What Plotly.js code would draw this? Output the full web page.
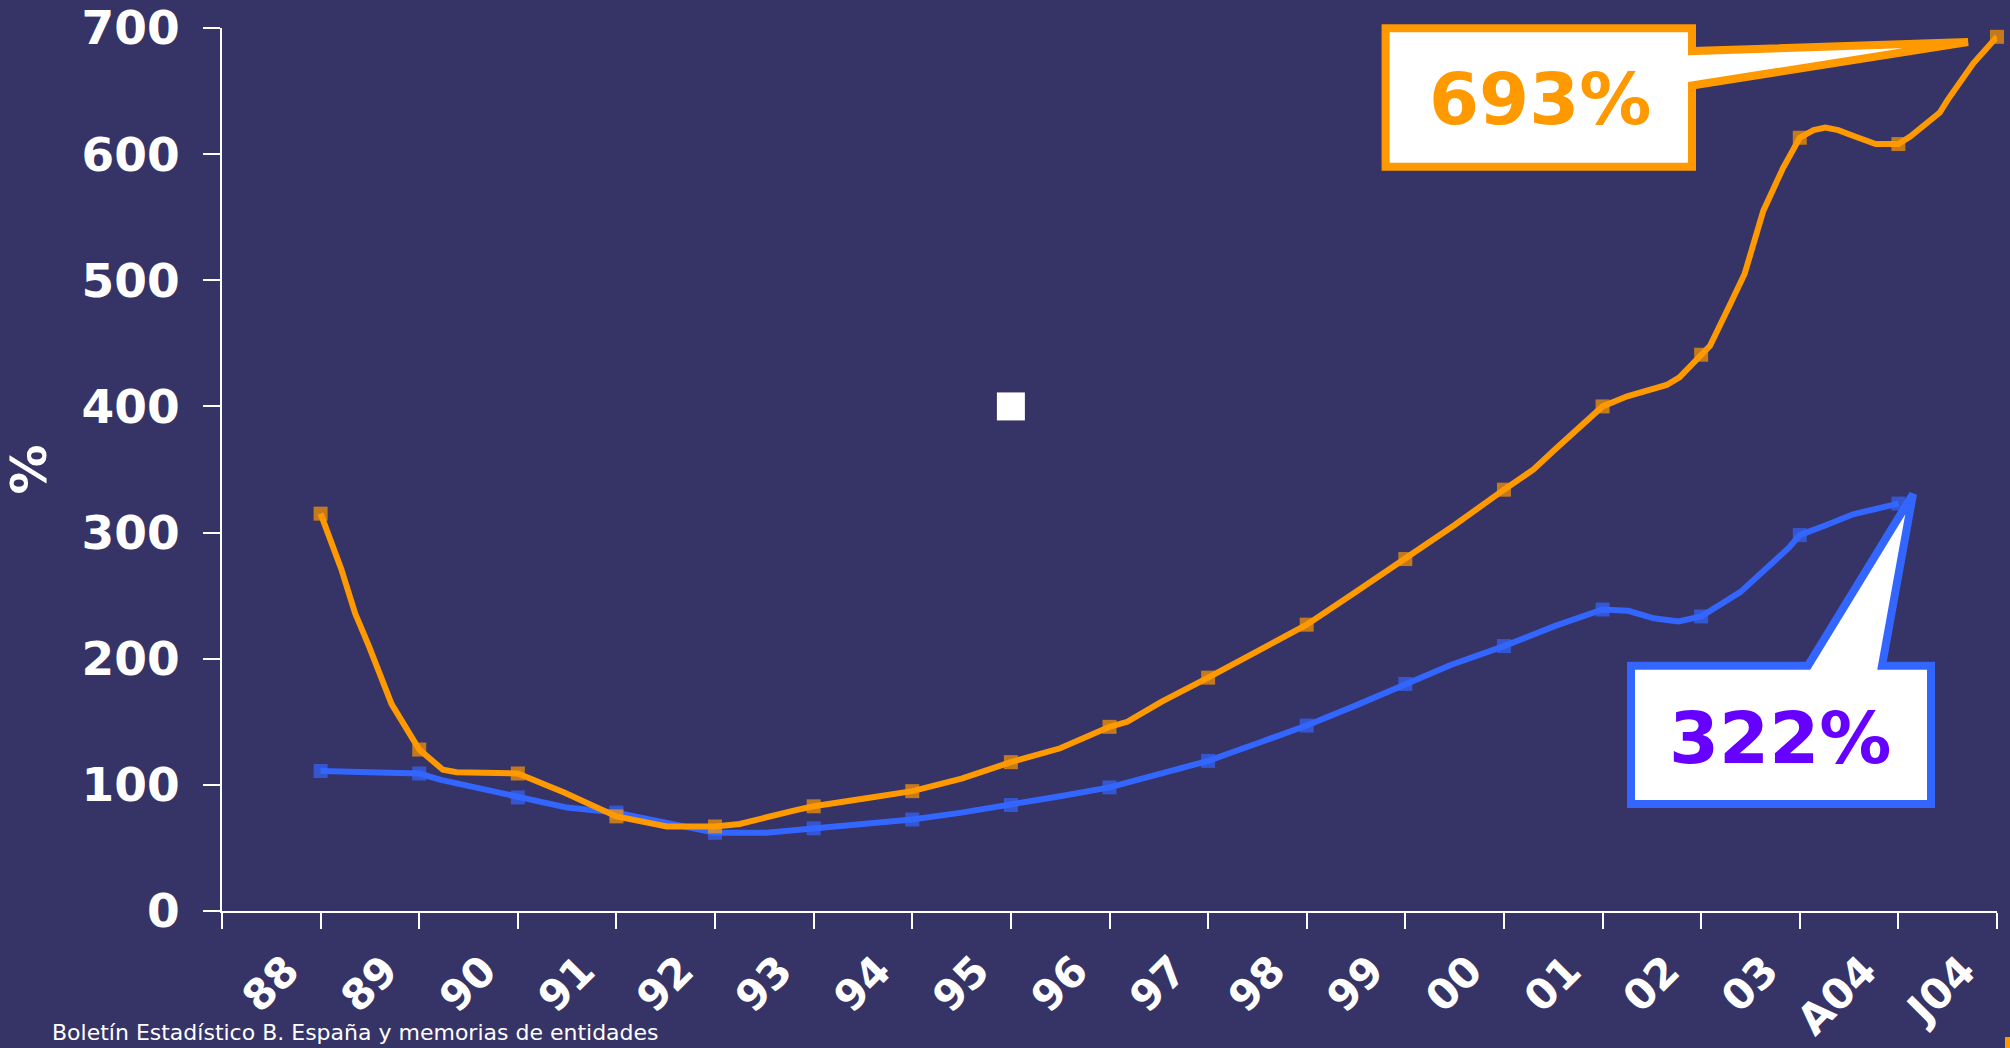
<!DOCTYPE html>
<html>
<head>
<meta charset="utf-8">
<script src="https://cdn.plot.ly/plotly-3.0.1.min.js"></script>
<style>
  html, body { margin: 0; padding: 0; background: #363366; }
  #chart { width: 2010px; height: 1048px; }
</style>
</head>
<body>
<div id="chart"></div>
<script>
// ---- Data ----
const yearLabels = ['88','89','90','91','92','93','94','95','96','97','98','99','00','01','02','03','A04','J04'];

// Orange series (x = position on the year scale, 88 = 0)
const orangeX = [0,0.21,0.35,0.49,0.72,1,1.24,1.38,2,2.47,3,3.51,4,4.25,4.82,5,5.5,6,6.5,7,7.5,8,8.18,8.53,9,10,10.5,11,11.5,12,12.3,12.52,13,13.25,13.65,13.78,14,14.09,14.3,14.44,14.63,14.83,15,15.14,15.26,15.39,15.56,15.77,16,16.12,16.42,16.5,16.76,17];
const orangeY = [315,271,236,210,164,128,112,110,109,94,75,67,67,69,80,83,89,95,105,118,129,146,150,166,185,227,253,279,306,334,350,366,400,408,417,423,441,448,482,505,555,589,613,619,621,619,614,608,608,614,633,643,672,693];

// Blue series
const blueX = [0,0.76,1,1.22,2,2.5,3,3.55,4,4.52,5,5.5,6,6.5,7,7.5,8,8.5,9,9.5,10,10.5,11,11.46,12,12.52,13,13.26,13.52,13.77,14,14.4,14.89,15,15.27,15.54,16];
const blueY = [111,110,109,104,90,82,78,69,62,62,65.5,69,72.5,78,84,91,98,108,119,133,147,163,180,195,210,226,239,238,232,229.5,233.5,253,288,298,306,314.5,323];

// Stray white square in the reference
const strayX = [7];
const strayY = [400];

const orangeLabel = '693%';
const blueLabel = '322%';
const sourceText = 'Boletín Estadístico B. España y memorias de entidades';
const yTitle = '%';

// ---- Styles ----
const BG = '#363366';
const ORANGE = '#FF9900';
const BLUE = '#3366FF';
const PURPLE = '#6600FF';
const FONT = 'DejaVu Sans, Verdana, sans-serif';

const W = 2010, H = 1048;
const M = {l: 222, r: 13, t: 28, b: 137};
const PW = W - M.l - M.r, PH = H - M.t - M.b;
// pixel -> paper helpers for decorations
const px = x => (x - M.l) / PW;
const py = y => (H - M.b - y) / PH;
const pathOf = pts => 'M' + pts.map(p => px(p[0]).toFixed(5) + ',' + py(p[1]).toFixed(5)).join(' L') + ' Z';

const markerSizes = xs => xs.map(x => Number.isInteger(x) ? 14 : 0);

const traces = [
  {
    x: blueX, y: blueY, type: 'scatter', mode: 'lines+markers',
    line: {color: BLUE, width: 6},
    marker: {symbol: 'square', color: BLUE, size: markerSizes(blueX), line: {width: 0}},
    cliponaxis: false, hoverinfo: 'x+y'
  },
  {
    x: orangeX, y: orangeY, type: 'scatter', mode: 'lines+markers',
    line: {color: ORANGE, width: 6},
    marker: {symbol: 'square', color: ORANGE, size: markerSizes(orangeX), line: {width: 0}},
    cliponaxis: false, hoverinfo: 'x+y'
  },
  {
    x: strayX, y: strayY, type: 'scatter', mode: 'markers',
    marker: {symbol: 'square', color: '#FFFFFF', size: 28, line: {width: 0}},
    hoverinfo: 'skip'
  }
];

const tickvals = [-1].concat(yearLabels.map((_, i) => i));
const ticktext = [''].concat(yearLabels);

const layout = {
  width: W, height: H,
  margin: M,
  paper_bgcolor: BG, plot_bgcolor: BG,
  showlegend: false,
  font: {family: FONT, color: '#FFFFFF'},
  xaxis: {
    range: [-1, 17], tickmode: 'array', tickvals: tickvals, ticktext: ticktext,
    showgrid: false, zeroline: false, showline: true, linecolor: '#FFFFFF', linewidth: 2,
    ticks: 'outside', ticklen: 16, tickwidth: 2, tickcolor: '#FFFFFF',
    tickangle: -45, ticklabelshift: -34, ticklabelstandoff: 0,
    tickfont: {family: FONT, size: 42, color: '#FFFFFF', weight: 'bold'},
    automargin: false, fixedrange: true
  },
  yaxis: {
    range: [0, 700], tickmode: 'linear', tick0: 0, dtick: 100,
    showgrid: false, zeroline: false, showline: true, linecolor: '#FFFFFF', linewidth: 2,
    ticks: 'outside', ticklen: 17, tickwidth: 2, tickcolor: '#FFFFFF',
    ticklabelstandoff: 14,
    tickfont: {family: FONT, size: 47, color: '#FFFFFF', weight: 'bold'},
    title: {text: yTitle, standoff: 26, font: {family: FONT, size: 50, color: '#FFFFFF', weight: 'bold'}},
    automargin: false, fixedrange: true
  },
  shapes: [
    {
      type: 'path', xref: 'paper', yref: 'paper', layer: 'above',
      path: pathOf([[1385.6,28.3],[1692,28.3],[1692,51],[1968,42],[1692,85.5],[1692,166.7],[1385.6,166.7]]),
      fillcolor: '#FFFFFF', line: {color: ORANGE, width: 8}
    },
    {
      type: 'path', xref: 'paper', yref: 'paper', layer: 'above',
      path: pathOf([[1631,665.7],[1808,665.7],[1913,494],[1882,665.7],[1931,665.7],[1931,804],[1631,804]]),
      fillcolor: '#FFFFFF', line: {color: BLUE, width: 8}
    },
    {
      type: 'rect', xref: 'paper', yref: 'paper', layer: 'above',
      x0: px(2005), x1: px(2012), y0: py(1037), y1: py(1050),
      fillcolor: ORANGE, line: {width: 0}
    }
  ],
  annotations: [
    {
      text: orangeLabel, xref: 'paper', yref: 'paper', x: px(1540), y: py(99),
      xanchor: 'center', yanchor: 'middle', showarrow: false,
      font: {family: FONT, size: 72, color: ORANGE, weight: 'bold'}
    },
    {
      text: blueLabel, xref: 'paper', yref: 'paper', x: px(1780), y: py(738),
      xanchor: 'center', yanchor: 'middle', showarrow: false,
      font: {family: FONT, size: 72, color: PURPLE, weight: 'bold'}
    },
    {
      text: sourceText, xref: 'paper', yref: 'paper', x: px(50), y: py(1047),
      xanchor: 'left', yanchor: 'bottom', showarrow: false,
      font: {family: FONT, size: 22, color: '#FFFFFF'}
    }
  ]
};

Plotly.newPlot('chart', traces, layout, {displayModeBar: false, staticPlot: true});
</script>
</body>
</html>
